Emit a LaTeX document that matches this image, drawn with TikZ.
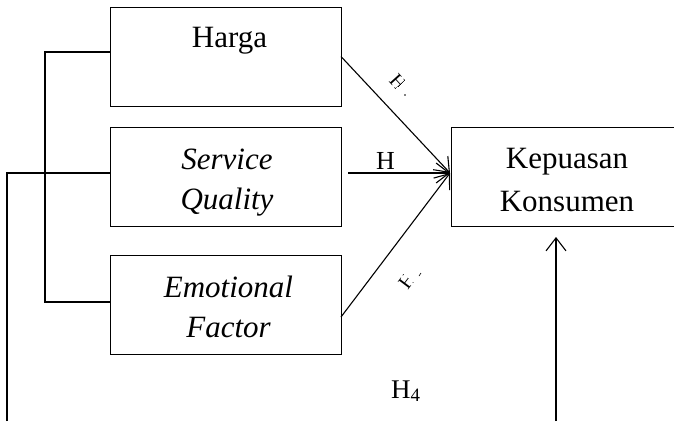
\documentclass[tikz,border=0pt]{standalone}
\usepackage{fontspec}
\setmainfont{Liberation Serif}
\usetikzlibrary{arrows.meta}
\tikzset{
  box/.style={draw, line width=1pt, rectangle, inner sep=0pt, outer sep=0pt,
              minimum width=231pt, minimum height=99pt},
  link/.style={line width=1.1pt},
  arr/.style={line width=1.1pt, -{Straight Barb[length=13pt,width=20pt,line width=1.1pt]}},
  boxtext/.style={anchor=base, inner sep=0pt, font=\fontsize{31}{42}\selectfont},
  hlabel/.style={anchor=base, inner sep=0pt, font=\fontsize{26}{30}\selectfont},
  slantlabel/.style={anchor=center, inner sep=0pt, font=\fontsize{20}{24}\selectfont},
}
\begin{document}
\begin{tikzpicture}[x=1pt, y=-1pt]
  \useasboundingbox (0,0) rectangle (674,421);
  \clip (0,0) rectangle (674,421);

  % variable boxes
  \node[box] (harga) at (225.5,56.5) {};
  \node[box] (sq)    at (225.5,176.5) {};
  \node[box] (ef)    at (225.5,304.5) {};
  \node[box, minimum width=233pt] (kk) at (567.5,176.5) {};

  % box texts
  \node[boxtext] (tharga) at (229.5,47) {Harga};
  \node[boxtext] (tsq1) at (227,169) {\itshape Service};
  \node[boxtext] (tsq2) at (227,209) {\itshape Quality};
  \node[boxtext] (tef1) at (228.5,297) {\itshape Emotional};
  \node[boxtext] (tef2) at (228.5,337) {\itshape Factor};
  \node[boxtext] (tkk1) at (567,168) {Kepuasan};
  \node[boxtext] (tkk2) at (567,211) {Konsumen};

  % connector end points
  \coordinate (tip) at (450,173);
  \coordinate (hstart) at (348,173);
  \coordinate (efout) at (341,317);
  \coordinate (bl) at (7,421);
  \coordinate (br) at (556,421);
  \coordinate (kkin) at (556,237);

  % bracket joining the three independent variables
  \draw[link] ([yshift=4.5pt]harga.west) -- ++(-65,0) |- ([yshift=2.5pt]ef.west);
  % line from the bottom edge into Service Quality
  \draw[link] (bl) |- ([yshift=3.5pt]sq.west);

  % arrows into Kepuasan Konsumen
  \draw[arr] (harga.east) -- (tip);
  \draw[arr] (hstart) -- (tip);
  \draw[arr] (efout) -- (tip);
  \draw[arr] (br) -- (kkin);

  % hypothesis labels
  \node[hlabel] (h2) at (385.5,169) {H};
  \node[anchor=base west, inner sep=0pt, font=\fontsize{27}{30}\selectfont] (h4) at (391,398) {H\textsubscript{4}};

  % partly hidden labels on the diagonal arrows
  \begin{scope}
    \clip[rotate around={-48:(398,82)}] (387,70) rectangle (401,94);
    \node[slantlabel, rotate=-48] (h1) at (398,82) {H};
  \end{scope}
  \fill (405,95) circle (0.9pt);
  \begin{scope}
    \clip[rotate around={53:(407,281)}] (396,269) rectangle (410,293);
    \node[slantlabel, rotate=53] (h3) at (407,281) {H};
  \end{scope}
  \draw[line width=0.6pt] (419,276) -- (421,273);
\end{tikzpicture}
\end{document}
